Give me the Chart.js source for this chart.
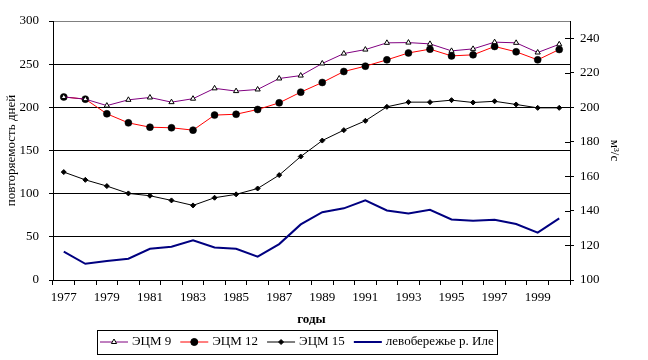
<!DOCTYPE html>
<html>
<head>
<meta charset="utf-8">
<script src="https://cdn.jsdelivr.net/npm/chart.js@4/dist/chart.umd.min.js"></script>
<style>
  html, body { margin: 0; padding: 0; background: #fff; }
  #chart { display: block; }
</style>
</head>
<body>
<canvas id="chart" width="648" height="360"></canvas>
<script>
const years = ['1977', '1978', '1979', '1980', '1981', '1982', '1983', '1984', '1985', '1986', '1987', '1988',
  '1989', '1990', '1991', '1992', '1993', '1994', '1995', '1996', '1997', '1998', '1999', '2000'];

// повторяемость дней (left axis)
const ecm9 = [212, 209.5, 202, 208.7, 211.4, 206, 210, 222, 218.8, 220.7, 233.4, 236.8,
  250.8, 262.3, 266.9, 274.7, 275, 273.5, 265.4, 267.7, 275.5, 274.7, 263.5, 273];
const ecm12 = [212, 209.5, 192.5, 182, 177, 176.3, 173.6, 191, 192, 197.5, 205.2, 217.6,
  228.8, 241.5, 247.7, 255, 263, 267.4, 259.6, 260.8, 270.5, 264.3, 255, 267];
const ecm15 = [125, 116, 108.8, 100.3, 97.6, 92.2, 86.4, 95.3, 99.2, 106, 121.5, 143,
  161.5, 173.6, 184.4, 200.6, 206, 206, 208.3, 205.6, 207, 203.3, 199.4, 199.4];
// м3/с (right axis)
const leftBank = [116.4, 109.4, 111, 112.3, 118.1, 119.3, 123, 118.8, 118.1, 113.5, 120.8, 132.2,
  139.3, 141.5, 146.1, 140.3, 138.5, 140.7, 135.1, 134.3, 134.9, 132.4, 127.4, 135.7];

const leftTicks = [0, 50, 100, 150, 200, 250, 300];
const rightTicks = [100, 120, 140, 160, 180, 200, 220, 240];

const FONT = '"Liberation Serif", "Times New Roman", serif';

function marker(ctx, style, r, x, y) {
  ctx.beginPath();
  if (style === 'triangle') {
    ctx.moveTo(x, y - r);
    ctx.lineTo(x + r * 0.866, y + r * 0.5);
    ctx.lineTo(x - r * 0.866, y + r * 0.5);
    ctx.closePath();
  } else if (style === 'rectRot') {
    ctx.moveTo(x, y - r);
    ctx.lineTo(x + r, y);
    ctx.lineTo(x, y + r);
    ctx.lineTo(x - r, y);
    ctx.closePath();
  } else {
    ctx.arc(x, y, r, 0, Math.PI * 2);
  }
  ctx.fill();
  ctx.stroke();
}

const boxLegend = {
  id: 'boxLegend',
  afterDraw(chart) {
    const ctx = chart.ctx;
    ctx.save();
    ctx.font = '13px ' + FONT;
    const lineLen = 28, gap = 4, itemGap = 9, pad = 3;
    const items = chart.data.datasets.map((ds) => ({ ds, w: lineLen + gap + ctx.measureText(ds.label).width }));
    const total = items.reduce((s, it) => s + it.w, 0) + itemGap * (items.length - 1) + pad * 2;
    const top = 330, h = 24, cy = top + h / 2;
    let x = Math.round(297 - total / 2);
    ctx.strokeStyle = '#000';
    ctx.lineWidth = 1;
    ctx.strokeRect(x + 0.5, top + 0.5, Math.round(total), h);
    x += pad;
    items.forEach(({ ds, w }) => {
      ctx.strokeStyle = ds.borderColor;
      ctx.lineWidth = ds.borderWidth;
      ctx.beginPath();
      ctx.moveTo(x, cy);
      ctx.lineTo(x + lineLen, cy);
      ctx.stroke();
      if (ds.pointRadius > 0) {
        ctx.fillStyle = ds.pointBackgroundColor;
        ctx.strokeStyle = ds.pointBorderColor;
        ctx.lineWidth = 1;
        marker(ctx, ds.pointStyle, ds.pointRadius, x + lineLen / 2, cy);
      }
      ctx.fillStyle = '#000';
      ctx.textBaseline = 'middle';
      ctx.textAlign = 'left';
      ctx.fillText(ds.label, x + lineLen + gap, cy);
      x += w + itemGap;
    });
    ctx.restore();
  }
};

// right-axis tick marks cross the axis line
const crossTicks = {
  id: 'crossTicks',
  afterDraw(chart) {
    const s = chart.scales.y1;
    const ctx = chart.ctx;
    ctx.save();
    ctx.strokeStyle = '#000';
    ctx.lineWidth = 1;
    s.ticks.forEach((t) => {
      const y = Math.round(s.getPixelForValue(t.value)) + 0.5;
      ctx.beginPath();
      ctx.moveTo(s.left - 5, y);
      ctx.lineTo(s.left, y);
      ctx.stroke();
    });
    ctx.restore();
  }
};

new Chart(document.getElementById('chart'), {
  type: 'line',
  data: {
    labels: years,
    datasets: [
      { label: 'ЭЦМ 9', data: ecm9, yAxisID: 'y', borderColor: '#800080', borderWidth: 1,
        pointStyle: 'triangle', pointRadius: 3, pointBackgroundColor: '#fff', pointBorderColor: '#000', pointBorderWidth: 1 },
      { label: 'ЭЦМ 12', data: ecm12, yAxisID: 'y', borderColor: '#ff0000', borderWidth: 1,
        pointStyle: 'circle', pointRadius: 3.5, pointBackgroundColor: '#000', pointBorderColor: '#000', pointBorderWidth: 0.5 },
      { label: 'ЭЦМ 15', data: ecm15, yAxisID: 'y', borderColor: '#000', borderWidth: 1,
        pointStyle: 'rectRot', pointRadius: 2.5, pointBackgroundColor: '#000', pointBorderColor: '#000', pointBorderWidth: 1 },
      { label: 'левобережье р. Иле', data: leftBank, yAxisID: 'y1', borderColor: '#000080', borderWidth: 2,
        pointRadius: 0, pointBackgroundColor: '#000080', pointBorderColor: '#000080' },
    ]
  },
  options: {
    responsive: false,
    animation: false,
    devicePixelRatio: 1,
    layout: { padding: { top: 21, left: 0, right: 0, bottom: 32 } },
    elements: { line: { tension: 0, fill: false } },
    plugins: { legend: { display: false }, tooltip: { enabled: false } },
    scales: {
      x: {
        type: 'category',
        offset: true,
        afterFit: (s) => { s.height = 48; },
        grid: { offset: true, drawOnChartArea: false, tickLength: 5, color: '#000', tickColor: '#000' },
        border: { color: '#000', width: 1 },
        ticks: {
          autoSkip: false, maxRotation: 0, padding: 5, color: '#000', font: { family: FONT, size: 13 },
          callback: (v, i) => (i % 2 === 0 ? years[i] : '')
        },
        title: { display: true, text: 'годы', color: '#000', font: { family: FONT, size: 13, weight: 'bold' }, padding: { top: 0, bottom: 1 } }
      },
      y: {
        position: 'left',
        min: 0, max: 300,
        afterFit: (s) => { s.width = 53; },
        afterBuildTicks: (s) => { s.ticks = leftTicks.map((v) => ({ value: v })); },
        grid: { color: (c) => (c.tick && c.tick.value === 300 ? '#808080' : '#000'), tickColor: '#000', tickLength: 4 },
        border: { color: '#000', width: 1 },
        ticks: { padding: 10, color: '#000', font: { family: FONT, size: 13 } },
        title: { display: true, text: 'повторяемость дней', color: '#000', font: { family: FONT, size: 13 }, padding: { top: 4, bottom: 0 } }
      },
      y1: {
        position: 'right',
        min: 100, max: 250,
        afterFit: (s) => { s.width = 78; },
        afterBuildTicks: (s) => { s.ticks = rightTicks.map((v) => ({ value: v })); },
        grid: { drawOnChartArea: false, tickColor: '#000', tickLength: 4 },
        border: { color: '#000', width: 1 },
        ticks: { padding: 6, color: '#000', font: { family: FONT, size: 13 } },
        title: { display: true, text: 'м³/с', color: '#000', font: { family: FONT, size: 13 }, padding: { top: 26, bottom: 0 } }
      }
    }
  },
  plugins: [crossTicks, boxLegend]
});
</script>
</body>
</html>
